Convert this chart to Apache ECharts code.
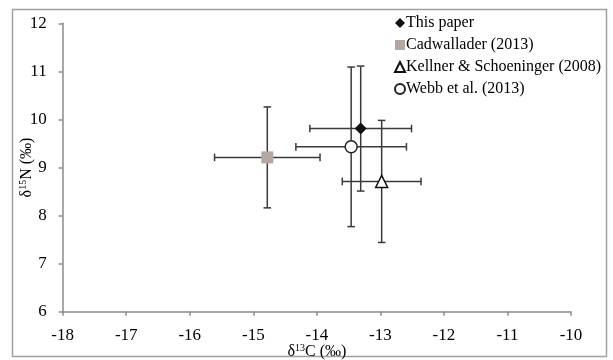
<!DOCTYPE html>
<html><head><meta charset="utf-8">
<script src="https://cdn.jsdelivr.net/npm/echarts@6/dist/echarts.min.js"></script>
<style>html,body{margin:0;padding:0;background:#fff}#c{width:613px;height:360px}</style>
</head><body><div id="c"></div>
<script>
// Data
const seriesNames = ['This paper', 'Cadwallader (2013)', 'Kellner & Schoeninger (2008)', 'Webb et al. (2013)'];
const d13C_mean = [-13.31, -14.78, -12.98, -13.46];
const d13C_sd   = [0.80, 0.83, 0.62, 0.87];
const d15N_mean = [9.81, 9.21, 8.71, 9.43];
const d15N_sd   = [1.30, 1.05, 1.27, 1.66];
const xTickRange = [-18, -10, 1];
const yTickRange = [6, 12, 1];

const symbols = ['diamond', 'rect', 'triangle', 'circle'];
const fills   = ['#111111', '#b4a7a2', '#ffffff', '#ffffff'];
const strokes = ['#111111', '#b4a7a2', '#111111', '#222222'];
const sizes   = [12, 12, [12, 12], 12];

const FONT = 'Liberation Serif';
const chart = echarts.init(document.getElementById('c'), null, {renderer: 'canvas'});

const errData = seriesNames.map((n, i) => [d13C_mean[i], d15N_mean[i], d13C_sd[i], d15N_sd[i]]);

const errSeries = {
  type: 'custom',
  name: 'err',
  z: 1,
  silent: true,
  data: errData,
  renderItem: function (params, api) {
    const x = api.value(0), y = api.value(1), sx = api.value(2), sy = api.value(3);
    const l = api.coord([x - sx, y]), r = api.coord([x + sx, y]);
    const t = api.coord([x, y + sy]), b = api.coord([x, y - sy]);
    const c = 3.8;
    const st = {stroke: '#3a3a3a', lineWidth: 1.5};
    const line = (x1, y1, x2, y2) => ({type: 'line', shape: {x1, y1, x2, y2}, style: st});
    return {type: 'group', children: [
      line(l[0], l[1], r[0], r[1]),
      line(t[0], t[1], b[0], b[1]),
      line(l[0], l[1] - c, l[0], l[1] + c),
      line(r[0], r[1] - c, r[0], r[1] + c),
      line(t[0] - c, t[1], t[0] + c, t[1]),
      line(b[0] - c, b[1], b[0] + c, b[1])
    ]};
  }
};

const pointSeries = seriesNames.map((n, i) => ({
  type: 'scatter',
  name: n,
  z: 5,
  symbol: symbols[i],
  symbolSize: sizes[i],
  data: [[d13C_mean[i], d15N_mean[i]]],
  itemStyle: {color: fills[i], borderColor: strokes[i], borderWidth: (i >= 2 ? 1.5 : 0), opacity: 1}
}));

const axisLabel = {color: '#000', fontFamily: FONT, fontSize: 17};

chart.setOption({
  animation: false,
  backgroundColor: '#fff',
  grid: {left: 62.7, right: 42, top: 23.3, bottom: 48.3, containLabel: false, outerBoundsMode: 'none'},
  graphic: [{
    type: 'rect', silent: true, z: -1,
    shape: {x: 12.5, y: 9.5, width: 594, height: 347},
    style: {fill: 'none', stroke: '#a0a0a0', lineWidth: 1.5}
  }],
  legend: {
    orient: 'vertical', left: 389, top: 10, itemGap: 6,
    itemWidth: 10, itemHeight: 10,
    data: seriesNames,
    textStyle: {fontFamily: FONT, fontSize: 16, color: '#000', padding: [0, 0, 0, -4]}
  },
  xAxis: {
    type: 'value', min: xTickRange[0], max: xTickRange[1], interval: xTickRange[2],
    splitLine: {show: false},
    axisLine: {show: true, onZero: false, lineStyle: {color: '#8a8a8a', width: 1.5}},
    axisTick: {show: true, length: 4, lineStyle: {color: '#8a8a8a', width: 1.5}},
    axisLabel: Object.assign({margin: 15}, axisLabel),
    name: '{a|δ}{s|13}{a|C (‰)}', nameLocation: 'middle', nameGap: 32, nameMoveOverlap: false,
    nameTextStyle: {rich: {
      a: {fontFamily: FONT, fontSize: 16, color: '#000'},
      s: {fontFamily: FONT, fontSize: 10, color: '#000', verticalAlign: 'top', padding: [0, 0, 6, 0]}
    }}
  },
  yAxis: {
    type: 'value', min: yTickRange[0], max: yTickRange[1], interval: yTickRange[2],
    splitLine: {show: false},
    axisLine: {show: true, onZero: false, lineStyle: {color: '#8a8a8a', width: 1.5}},
    axisTick: {show: true, length: 4, lineStyle: {color: '#8a8a8a', width: 1.5}},
    axisLabel: Object.assign({margin: 16}, axisLabel),
    name: '{a|δ}{s|15}{a|N (‰)}', nameLocation: 'middle', nameGap: 28, nameMoveOverlap: false,
    nameTextStyle: {rich: {
      a: {fontFamily: FONT, fontSize: 16, color: '#000'},
      s: {fontFamily: FONT, fontSize: 10, color: '#000', verticalAlign: 'top', padding: [0, 0, 6, 0]}
    }}
  },
  series: [errSeries].concat(pointSeries)
});
</script>
</body></html>
